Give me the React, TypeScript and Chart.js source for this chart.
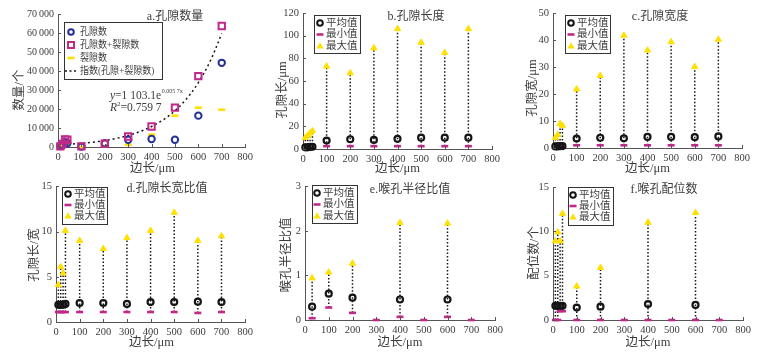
import React, { useEffect, useRef } from "react";
import { Chart, registerables } from "chart.js";
Chart.register(...registerables);

// ---------------- data ----------------
const SIDES = [10, 20, 30, 40, 100, 200, 300, 400, 500, 600, 700];

// a. pore counts
const A_PORE = [500, 1000, 2500, 2000, 200, 2000, 3800, 4200, 3800, 16500, 44300];
const A_TOTAL = [300, 1600, 4000, 3800, 300, 1700, 5500, 10800, 20700, 37300, 63700];
const A_CRACK = [200, 700, 1500, 1700, 0, 500, 1200, 6500, 16500, 20700, 19600];
const A_FIT_X = [0, 50, 100, 150, 200, 250, 300, 350, 400, 450, 500, 550, 600, 650, 700];
const A_FIT_Y = [1100, 1450, 1950, 2550, 3400, 4550, 6050, 8100, 10800, 14300, 19100, 25400, 33900, 45000, 59700];

// b. pore length
const B_MEAN = [1.5, 1.5, 1.8, 2, 7.4, 8.6, 8, 9, 10, 10, 10];
const B_MIN = [0.6, 0.6, 0.6, 0.6, 2.5, 2.5, 2.5, 2.5, 2.5, 2.5, 2.5];
const B_MAX = [10, 12, 14, 16, 73, 67, 89, 106, 94, 85, 106];

// c. pore width
const C_MEAN = [0.6, 0.6, 0.7, 0.7, 3.5, 3.8, 3.6, 4.1, 4.1, 4.0, 4.3];
const C_MIN = [0.2, 0.2, 0.2, 0.2, 1, 1, 1, 1, 1, 1, 1];
const C_MAX = [3.8, 4.9, 9, 8.3, 21.8, 26.8, 41.7, 36.2, 39.3, 30.1, 40.2];

// d. aspect ratio
const D_MEAN = [1.9, 1.9, 1.9, 2.0, 2.1, 2.1, 2.0, 2.2, 2.2, 2.25, 2.2];
const D_MIN = [1.1, 1.1, 1.1, 1.1, 1.1, 1.1, 1.1, 1.1, 1.1, 1.0, 1.1];
const D_MAX = [4.1, 6.1, 5.4, 10.1, 9.0, 8.1, 9.3, 10.1, 12.1, 9.0, 9.5];

// e. throat/pore radius ratio
const E_SIDES = [30, 100, 200, 300, 400, 500, 600, 700];
const E_MEAN = [0.3, 0.59, 0.5, null, 0.46, null, 0.46, null];
const E_MIN = [0.04, 0.28, 0.16, 0, 0.07, 0, 0.07, 0];
const E_MAX = [0.94, 1.07, 1.27, null, 2.18, null, 2.17, null];

// f. coordination number
const F_MEAN = [1.6, 1.6, 1.6, 1.6, 1.4, 1.5, null, 1.8, null, 1.7, null];
const F_MIN = [0, 0, 1, 1, 0, 0, 0, 0, 0, 0, 0];
const F_MAX = [8.9, 9.9, 8.9, 12, 3.8, 5.9, null, 11, null, 12.1, null];

// ---------------- styles ----------------
const FONT = '"Liberation Serif","Noto Sans CJK SC",serif';
const TEXT = "#3c3c3c";
const AXIS = "#555555";
const BLACK = "#151515";
const MAGENTA = "#c0288a";
const YELLOW = "#ffe000";
const BLUE = "#24309a";

type Num = number | null;

function pts(xs: number[], ys: Num[]) {
  return xs
    .map((x, i) => ({ x, y: ys[i] }))
    .filter((p) => p.y !== null && p.y !== undefined);
}

function stems(xs: number[], lo: Num[], hi: Num[]) {
  const out: any[] = [];
  xs.forEach((x, i) => {
    if (hi[i] === null || lo[i] === null) return;
    out.push({
      data: [
        { x, y: lo[i] },
        { x, y: hi[i] },
      ],
      showLine: true,
      borderColor: BLACK,
      borderWidth: 1.5,
      borderDash: [1.5, 2],
      pointRadius: 0,
      order: 10,
    });
  });
  return out;
}

function statSets(xs: number[], mean: Num[], min: Num[], max: Num[]) {
  return [
    {
      data: pts(xs, mean),
      pointStyle: "circle",
      pointRadius: 3,
      pointBorderWidth: 2.2,
      pointBorderColor: BLACK,
      pointBackgroundColor: "rgba(0,0,0,0)",
      order: 1,
      clip: false,
    },
    {
      data: pts(xs, max),
      pointStyle: "triangle",
      pointRadius: 3.6,
      pointBorderWidth: 1,
      pointBorderColor: YELLOW,
      pointBackgroundColor: YELLOW,
      order: 2,
      clip: false,
    },
    {
      data: pts(xs, min),
      pointStyle: "line",
      pointRadius: 3.5,
      pointBorderWidth: 2.6,
      pointBorderColor: MAGENTA,
      order: 3,
      clip: false,
    },
    ...stems(xs, min, max),
  ];
}

type Glyph = "circle" | "bcircle" | "dash" | "ydash" | "tri" | "bsquare" | "dotted";

interface Legend {
  box: [number, number, number, number];
  rows: number[];
  mx: number;
  tx: number;
  sx: number;
  items: [Glyph, string][];
}

interface Panel {
  id: string;
  box: [number, number, number, number];
  plot: [number, number, number, number];
  yMax: number;
  yStep: number;
  group?: boolean;
  tickSize: number;
  title: string;
  titleAt: [number, number];
  yTitle: string;
  yTitleAt: [number, number];
  xTitleY: number;
  legend: Legend;
  datasets: any[];
  annotate?: boolean;
}

const STAT_ITEMS: [Glyph, string][] = [
  ["circle", "平均值"],
  ["dash", "最小值"],
  ["tri", "最大值"],
];

const PANELS: Panel[] = [
  {
    id: "a",
    box: [0, 0, 257, 181],
    plot: [58, 14, 247, 147],
    yMax: 70000,
    yStep: 10000,
    group: true,
    tickSize: 10,
    title: "a.孔隙数量",
    titleAt: [175, 17],
    yTitle: "数量/个",
    yTitleAt: [20, 90],
    xTitleY: 169,
    legend: {
      box: [64, 22, 98, 57],
      rows: [32, 45, 58, 71],
      mx: 71,
      tx: 80,
      sx: 0.86,
      items: [
        ["bcircle", "孔隙数"],
        ["bsquare", "孔隙数+裂隙数"],
        ["ydash", "裂隙数"],
        ["dotted", "指数(孔隙+裂隙数)"],
      ],
    },
    annotate: true,
    datasets: [
      {
        data: pts(SIDES, A_TOTAL),
        pointStyle: "rect",
        pointRadius: 4.5,
        pointBorderWidth: 2,
        pointBorderColor: MAGENTA,
        pointBackgroundColor: "rgba(0,0,0,0)",
        order: 1,
        clip: false,
      },
      {
        data: pts(SIDES, A_PORE),
        pointStyle: "circle",
        pointRadius: 3.2,
        pointBorderWidth: 2,
        pointBorderColor: BLUE,
        pointBackgroundColor: "rgba(0,0,0,0)",
        order: 2,
        clip: false,
      },
      {
        data: pts(SIDES, A_CRACK),
        pointStyle: "line",
        pointRadius: 3.5,
        pointBorderWidth: 2.6,
        pointBorderColor: YELLOW,
        order: 3,
        clip: false,
      },
      {
        data: pts(A_FIT_X, A_FIT_Y),
        showLine: true,
        borderColor: BLACK,
        borderWidth: 1.5,
        borderDash: [2, 3],
        pointRadius: 0,
        tension: 0.35,
        order: 4,
      },
    ],
  },
  {
    id: "b",
    box: [257, 0, 256, 181],
    plot: [303, 13, 492, 149],
    yMax: 120,
    yStep: 20,
    tickSize: 10.5,
    title: "b.孔隙长度",
    titleAt: [416, 17],
    yTitle: "孔隙长/μm",
    yTitleAt: [283, 90],
    xTitleY: 169,
    legend: { box: [314, 15, 46, 38], rows: [23, 34.5, 46], mx: 320, tx: 326, sx: 1, items: STAT_ITEMS },
    datasets: statSets(SIDES, B_MEAN, B_MIN, B_MAX),
  },
  {
    id: "c",
    box: [513, 0, 257, 181],
    plot: [553, 13, 742, 148],
    yMax: 50,
    yStep: 10,
    tickSize: 10.5,
    title: "c.孔隙宽度",
    titleAt: [660, 17],
    yTitle: "孔隙宽/μm",
    yTitleAt: [533, 88],
    xTitleY: 169,
    legend: { box: [565, 15, 45, 38], rows: [23, 34.5, 46], mx: 571, tx: 577, sx: 1, items: STAT_ITEMS },
    datasets: statSets(SIDES, C_MEAN, C_MIN, C_MAX),
  },
  {
    id: "d",
    box: [0, 176, 257, 187],
    plot: [56, 186, 247, 322],
    yMax: 15,
    yStep: 5,
    tickSize: 10.5,
    title: "d.孔隙长宽比值",
    titleAt: [167, 189],
    yTitle: "孔隙长/宽",
    yTitleAt: [35, 255],
    xTitleY: 343,
    legend: { box: [62, 187, 45, 37], rows: [194, 205, 216], mx: 68, tx: 74, sx: 1, items: STAT_ITEMS },
    datasets: statSets(SIDES, D_MEAN, D_MIN, D_MAX),
  },
  {
    id: "e",
    box: [257, 176, 256, 187],
    plot: [305, 185, 495, 320],
    yMax: 3,
    yStep: 1,
    tickSize: 10.5,
    title: "e.喉孔半径比值",
    titleAt: [410, 190],
    yTitle: "喉孔半径比值",
    yTitleAt: [287, 255],
    xTitleY: 343,
    legend: { box: [312, 185, 45, 38], rows: [193, 204.5, 216], mx: 317, tx: 323, sx: 1, items: STAT_ITEMS },
    datasets: statSets(E_SIDES, E_MEAN, E_MIN, E_MAX),
  },
  {
    id: "f",
    box: [513, 176, 257, 187],
    plot: [553, 187, 743, 320],
    yMax: 15,
    yStep: 5,
    tickSize: 10.5,
    title: "f.喉孔配位数",
    titleAt: [664, 190],
    yTitle: "配位数/个",
    yTitleAt: [535, 253],
    xTitleY: 343,
    legend: { box: [568, 187, 45, 38], rows: [195, 206, 217], mx: 573, tx: 579, sx: 1, items: STAT_ITEMS },
    datasets: statSets(SIDES, F_MEAN, F_MIN, F_MAX),
  },
];

function groupNum(v: number) {
  return String(v).replace(/\B(?=(\d{3})+(?!\d))/g, "\u2009");
}

function drawGlyph(ctx: CanvasRenderingContext2D, g: Glyph, x: number, y: number) {
  ctx.save();
  ctx.setLineDash([]);
  ctx.beginPath();
  switch (g) {
    case "circle":
    case "bcircle":
      ctx.strokeStyle = g === "circle" ? BLACK : BLUE;
      ctx.lineWidth = 2;
      ctx.arc(x, y, 2.8, 0, Math.PI * 2);
      ctx.stroke();
      break;
    case "dash":
    case "ydash":
      ctx.strokeStyle = g === "dash" ? MAGENTA : YELLOW;
      ctx.lineWidth = 2.6;
      ctx.moveTo(x - 3.5, y);
      ctx.lineTo(x + 3.5, y);
      ctx.stroke();
      break;
    case "tri":
      ctx.fillStyle = YELLOW;
      ctx.moveTo(x, y - 3.8);
      ctx.lineTo(x + 3.6, y + 2.6);
      ctx.lineTo(x - 3.6, y + 2.6);
      ctx.closePath();
      ctx.fill();
      break;
    case "bsquare":
      ctx.strokeStyle = MAGENTA;
      ctx.lineWidth = 2;
      ctx.strokeRect(x - 3, y - 3, 6, 6);
      break;
    case "dotted":
      ctx.strokeStyle = BLACK;
      ctx.lineWidth = 1.5;
      ctx.setLineDash([2, 2.5]);
      ctx.moveTo(x - 6, y);
      ctx.lineTo(x + 7, y);
      ctx.stroke();
      break;
  }
  ctx.restore();
}

function makeDeco(p: Panel) {
  return {
    id: "deco_" + p.id,
    afterDraw(chart: any) {
      const ctx: CanvasRenderingContext2D = chart.ctx;
      const ox = p.box[0];
      const oy = p.box[1];
      const xs = chart.scales.x;
      const ys = chart.scales.y;
      const area = chart.chartArea;
      ctx.save();
      // inward ticks
      ctx.strokeStyle = AXIS;
      ctx.lineWidth = 1;
      ctx.setLineDash([]);
      ctx.beginPath();
      xs.ticks.forEach((t: any) => {
        const px = Math.round(xs.getPixelForValue(t.value)) + 0.5;
        ctx.moveTo(px, area.bottom);
        ctx.lineTo(px, area.bottom - 3);
      });
      ys.ticks.forEach((t: any) => {
        const py = Math.round(ys.getPixelForValue(t.value)) + 0.5;
        ctx.moveTo(area.left, py);
        ctx.lineTo(area.left + 3, py);
      });
      ctx.stroke();

      // title
      ctx.fillStyle = TEXT;
      ctx.font = `12px ${FONT}`;
      ctx.textAlign = "center";
      ctx.textBaseline = "middle";
      ctx.fillText(p.title, p.titleAt[0] - ox, p.titleAt[1] - oy);

      // x title
      ctx.font = `12.5px ${FONT}`;
      ctx.fillText("边长/μm", (p.plot[0] + p.plot[2]) / 2 - ox, p.xTitleY - oy);

      // y title
      ctx.save();
      ctx.translate(p.yTitleAt[0] - ox, p.yTitleAt[1] - oy);
      ctx.rotate(-Math.PI / 2);
      ctx.fillText(p.yTitle, 0, 0);
      ctx.restore();

      // legend
      const L = p.legend;
      ctx.fillStyle = "#ffffff";
      ctx.fillRect(L.box[0] - ox, L.box[1] - oy, L.box[2], L.box[3]);
      ctx.strokeStyle = "#333333";
      ctx.lineWidth = 1;
      ctx.strokeRect(L.box[0] - ox + 0.5, L.box[1] - oy + 0.5, L.box[2], L.box[3]);
      ctx.font = `10.5px ${FONT}`;
      ctx.textAlign = "left";
      L.items.forEach(([g, label], i) => {
        drawGlyph(ctx, g, L.mx - ox, L.rows[i] - oy);
        ctx.save();
        ctx.fillStyle = TEXT;
        ctx.translate(L.tx - ox, L.rows[i] - oy);
        ctx.scale(L.sx, 1);
        ctx.fillText(label, 0, 0);
        ctx.restore();
      });

      if (p.annotate) {
        ctx.fillStyle = TEXT;
        let x = 110 - ox;
        const y1 = 96 - oy;
        ctx.font = `italic 11.5px ${FONT}`;
        ctx.fillText("y", x, y1);
        x += ctx.measureText("y").width;
        ctx.font = `11.5px ${FONT}`;
        const s1 = "=1 103.1e";
        ctx.fillText(s1, x, y1);
        x += ctx.measureText(s1).width;
        ctx.font = `6px ${FONT}`;
        ctx.fillText("0.005 7x", x + 0.5, y1 - 5);
        let x2 = 110 - ox;
        const y2 = 108 - oy;
        ctx.font = `italic 11.5px ${FONT}`;
        ctx.fillText("R", x2, y2);
        x2 += ctx.measureText("R").width;
        ctx.font = `7px ${FONT}`;
        ctx.fillText("2", x2, y2 - 4);
        x2 += ctx.measureText("2").width;
        ctx.font = `11.5px ${FONT}`;
        ctx.fillText("=0.759 7", x2, y2);
      }
      ctx.restore();
    },
  };
}

function PanelChart({ p }: { p: Panel }) {
  const ref = useRef<HTMLCanvasElement | null>(null);
  useEffect(() => {
    if (!ref.current) return;
    const [bx, by, bw, bh] = p.box;
    const [pl, pt, pr, pb] = p.plot;
    const yW = pl - bx;
    const xH = by + bh - pb;
    const tickFont = { family: FONT, size: p.tickSize };
    const chart = new Chart(ref.current, {
      type: "scatter",
      data: { datasets: p.datasets },
      plugins: [makeDeco(p)],
      options: {
        animation: false,
        responsive: false,
        maintainAspectRatio: false,
        events: [],
        layout: { padding: { left: 0, top: pt - by, right: bx + bw - pr, bottom: 0 } },
        plugins: { legend: { display: false }, tooltip: { enabled: false } },
        scales: {
          x: {
            type: "linear",
            min: 0,
            max: 800,
            ticks: { stepSize: 100, font: { family: FONT, size: 10.5 }, color: TEXT, padding: 4, maxRotation: 0, autoSkip: false },
            grid: { display: false, drawTicks: false },
            border: { display: true, color: AXIS, width: 1 },
            afterFit: (s: any) => {
              s.height = xH;
            },
          },
          y: {
            type: "linear",
            min: 0,
            max: p.yMax,
            ticks: {
              stepSize: p.yStep,
              font: tickFont,
              color: TEXT,
              padding: 4,
              callback: (v: any) => (p.group ? groupNum(Number(v)) : String(v)),
            },
            grid: { display: false, drawTicks: false },
            border: { display: true, color: AXIS, width: 1 },
            afterFit: (s: any) => {
              s.width = yW;
            },
          },
        },
      } as any,
    });
    return () => chart.destroy();
  }, [p]);
  return (
    <canvas
      ref={ref}
      width={p.box[2]}
      height={p.box[3]}
      style={{
        position: "absolute",
        left: p.box[0],
        top: p.box[1],
        width: p.box[2],
        height: p.box[3],
      }}
    />
  );
}

export default function App() {
  return (
    <div style={{ position: "absolute", left: 0, top: 0, width: 770, height: 363, background: "#ffffff" }}>
      {PANELS.map((p) => (
        <PanelChart key={p.id} p={p} />
      ))}
    </div>
  );
}
